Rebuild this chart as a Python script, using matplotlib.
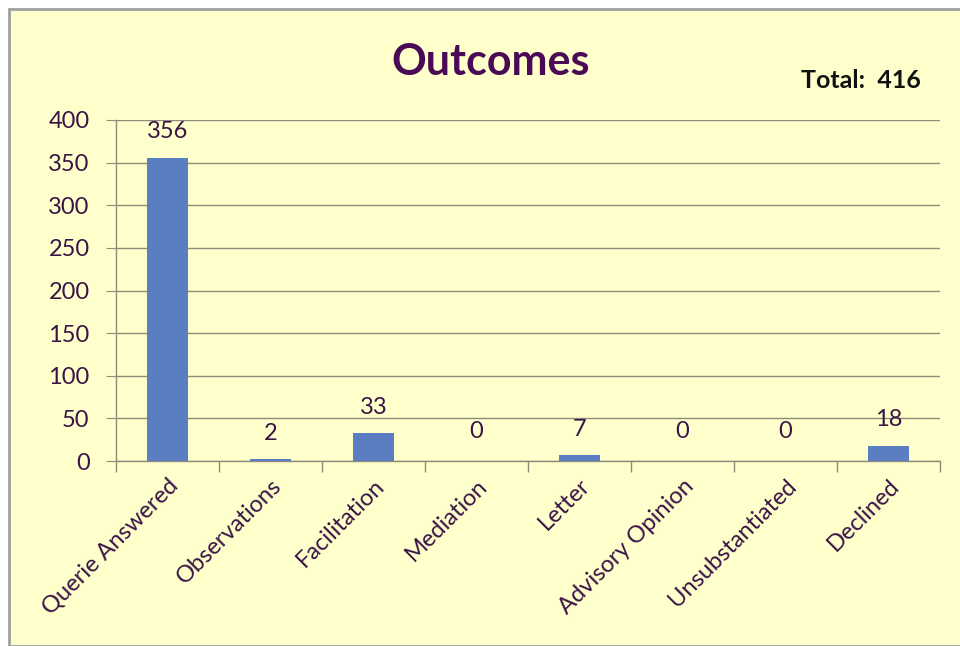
import matplotlib
matplotlib.use("Agg")
import matplotlib.pyplot as plt
from matplotlib.patches import Rectangle
import numpy as np

categories = ["Querie Answered", "Observations", "Facilitation", "Mediation",
              "Letter", "Advisory Opinion", "Unsubstantiated", "Declined"]
values = [356, 2, 33, 0, 7, 0, 0, 18]
yticks = [0, 50, 100, 150, 200, 250, 300, 350, 400]
title = "Outcomes"
total_text = "Total:  416"

W, H = 960, 646
fig = plt.figure(figsize=(W / 100, H / 100), dpi=100)
fig.patch.set_facecolor("white")
bg = "#FFFFCC"
fig.patches.append(Rectangle((9 / W, 0), 1 - 9 / W + 0.01, 1 - 9 / H, transform=fig.transFigure,
                             facecolor=bg, edgecolor="#A0A0A0", linewidth=2, zorder=-10))

font = ["Lato", "DejaVu Sans"]
txtc = "#3A1446"

ax = fig.add_axes([116 / W, 1 - 461 / H, (940 - 116) / W, (461 - 120) / H])
ax.set_facecolor(bg)
x = np.arange(len(categories))
ax.bar(x, values, width=0.4, color="#5B7EC2", zorder=3)
ax.set_xlim(-0.5, len(categories) - 0.5)
ax.set_ylim(0, 400)
ax.set_yticks(yticks)
ax.set_yticklabels([str(v) for v in yticks], fontsize=17, color=txtc, family=font)
ax.yaxis.grid(True, color="#8C8C7A", linewidth=1, zorder=1)
ax.set_axisbelow(True)
ax.tick_params(axis="y", length=7, color="#8C8C7A", pad=12)
ax.set_xticks(x)
ax.set_xticklabels(categories, rotation=45, ha="right", va="top", rotation_mode="anchor",
                   fontsize=17, color=txtc, family=font)
ax.tick_params(axis="x", which="major", length=0, pad=10)
ax.set_xticks(np.arange(len(categories) + 1) - 0.5, minor=True)
ax.tick_params(axis="x", which="minor", length=8, color="#8C8C7A", width=1)
for s in ["top", "right"]:
    ax.spines[s].set_visible(False)
for s in ["left", "bottom"]:
    ax.spines[s].set_color("#8C8C7A")
    ax.spines[s].set_linewidth(1)

for xi, v in zip(x, values):
    ax.annotate(str(v), (xi, v), xytext=(0, 11 if v > 0 else 14), textcoords="offset points",
                ha="center", va="bottom", fontsize=17, color=txtc, family=font)

fig.text(491 / W, 1 - 62 / H, title, ha="center", va="center", fontsize=31,
         fontweight="bold", color="#4A0A55", family=font)
fig.text(861 / W, 1 - 80 / H, total_text, ha="center", va="center", fontsize=18,
         fontweight="bold", color="#111111", family=font)

fig.savefig("out.png", dpi=100, facecolor=fig.get_facecolor())
